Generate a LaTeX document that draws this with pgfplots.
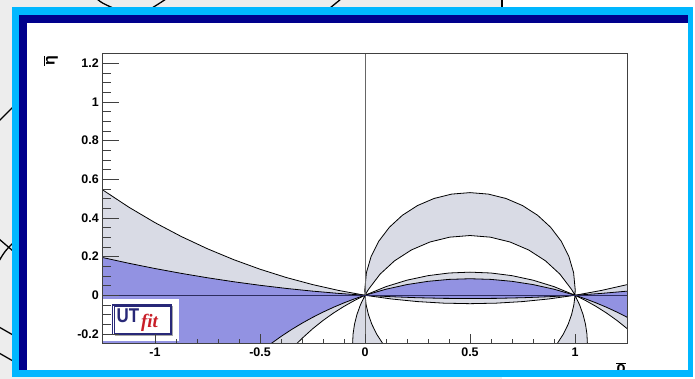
\documentclass[border=0pt]{standalone}
\usepackage{fontspec}
\setmainfont{Liberation Sans}
\newfontfamily\logoserif{Liberation Serif}
\usepackage{pgfplots}
\pgfplotsset{compat=1.18}

\definecolor{bandgray}{RGB}{217,219,229}
\definecolor{bandblue}{RGB}{146,146,226}
\definecolor{framecyan}{RGB}{0,183,255}
\definecolor{framenavy}{RGB}{0,0,140}
\definecolor{slidegray}{RGB}{237,237,237}
\definecolor{zeroline}{RGB}{45,45,95}
\definecolor{logonavy}{RGB}{40,40,120}
\definecolor{logored}{RGB}{200,30,40}

\begin{document}
\begin{tikzpicture}
\useasboundingbox (0,0) rectangle (695bp,379bp);
\clip (0,0) rectangle (695bp,379bp);
% slide background
\fill[white] (0,0) rectangle (695bp,379bp);
\fill[slidegray] (0,0) rectangle (502bp,379bp);
\draw[black, line width=1.2bp] (502bp,379bp) -- (502bp,370bp);
\begin{scope}[black, line width=1.3bp]
  \draw (97bp,380bp) .. controls (102bp,376bp) .. (113bp,371bp);
  \draw (166bp,380bp) .. controls (160bp,376bp) .. (152bp,371bp);
  \draw (341bp,380bp) .. controls (336bp,376bp) .. (330bp,371bp);
  \draw (-1bp,258bp) .. controls (5bp,264bp) .. (13bp,272bp);
  \draw (-1bp,118bp) .. controls (5bp,128bp) .. (13bp,136bp);
  \draw (-1bp,140bp) .. controls (6bp,134bp) .. (13bp,128bp);
  \draw (-1bp,52bp) .. controls (6bp,48bp) .. (13bp,44bp);
  \draw (-1bp,26bp) .. controls (6bp,22bp) .. (13bp,18bp);
\end{scope}
% picture frame
\fill[framecyan] (12bp,2bp) rectangle (693bp,372bp);
\fill[framenavy] (19bp,9bp) rectangle (688bp,364.3bp);
\fill[white] (26.7bp,9bp) rectangle (688bp,356.3bp);

\begin{axis}[
  at={(102.5bp,35.4bp)}, anchor=south west,
  scale only axis, width=525bp, height=290bp,
  xmin=-1.25, xmax=1.25, ymin=-0.25, ymax=1.25,
  axis on top,
  axis line style={draw=black!75, line width=0.6bp},
  tick pos=left, tick align=inside,
  xtick={-1,-0.5,0,0.5,1},
  ytick={-0.2,0,0.2,0.4,0.6,0.8,1,1.2},
  minor x tick num=4, minor y tick num=3,
  major tick length=16bp, minor tick length=8bp,
  x tick style={/pgfplots/major tick length=10bp, /pgfplots/minor tick length=5bp},
  tick style={black!75, line width=0.6bp},
  /pgf/number format/assume math mode=true,
  tick label style={font=\bfseries\fontsize{12.5}{13}\selectfont},
  yticklabel style={xshift=-0.2bp},
  xticklabel style={yshift=-0.5bp},
]
% 95% region, solution passing through the real axis (gray)
\addplot[fill=bandgray, draw=black, line width=0.8bp] coordinates {
  (-1.3,0.5845) (-1.25,0.5457) (-1.125,0.4559) (-1,0.3756) (-0.875,0.3040)
  (-0.75,0.2404) (-0.625,0.1841) (-0.5,0.1348) (-0.375,0.0919) (-0.25,0.0554)
  (-0.125,0.0248) (0,0) (-0.05,-0.0270) (-0.1,-0.0575) (-0.15,-0.0918)
  (-0.2,-0.1305) (-0.25,-0.1740) (-0.3,-0.2233) (-0.325,-0.2504) (-0.35,-0.2795)
  (-1.3,-0.2795)} -- cycle;
\addplot[fill=bandgray, draw=black, line width=0.8bp] coordinates {
  (0,0) (0.1,0.0447) (0.2,0.0781) (0.3,0.1014) (0.4,0.1151) (0.5,0.1196)
  (0.6,0.1151) (0.7,0.1014) (0.8,0.0781) (0.9,0.0447) (1,0)
  (0.875,-0.0191) (0.75,-0.0327) (0.625,-0.0408) (0.5,-0.0435)
  (0.375,-0.0408) (0.25,-0.0327) (0.125,-0.0191) (0,0)} -- cycle;
\addplot[fill=bandgray, draw=black, line width=0.8bp] coordinates {
  (1,0) (1.125,0.0248) (1.25,0.0554) (1.3,0.0693) (1.3,-0.2233)
  (1.25,-0.1740) (1.2,-0.1305) (1.15,-0.0918) (1.1,-0.0575) (1.05,-0.0270)
  (1,0)} -- cycle;
% 95% region, second solution (gray crescent and its lower branches)
\addplot[fill=bandgray, draw=black, line width=0.8bp] coordinates {
  (0,0) (-0.0009,0.03) (0.0067,0.1170) (0.0293,0.2013) (0.0662,0.2805)
  (0.1163,0.3520) (0.1780,0.4137) (0.2496,0.4638) (0.3287,0.5007)
  (0.4130,0.5233) (0.5,0.5309) (0.5870,0.5233) (0.6713,0.5007)
  (0.7504,0.4638) (0.8220,0.4137) (0.8837,0.3520) (0.9338,0.2805)
  (0.9707,0.2013) (0.9933,0.1170) (1.0009,0.03) (1,0)
  (0.9841,0.0295) (0.9282,0.1093) (0.8593,0.1782) (0.7795,0.2341)
  (0.6912,0.2753) (0.5971,0.3005) (0.5,0.3090) (0.4029,0.3005)
  (0.3088,0.2753) (0.2205,0.2341) (0.1407,0.1782) (0.0718,0.1093)
  (0.0159,0.0295) (0,0)} -- cycle;
\addplot[fill=bandgray, draw=black, line width=0.8bp] coordinates {
  (0,0) (-0.0220,-0.05) (-0.0385,-0.1) (-0.05,-0.15) (-0.0568,-0.2)
  (-0.0590,-0.25) (-0.0568,-0.3) (0.1232,-0.3) (0.0847,-0.25) (0.0550,-0.2)
  (0.0326,-0.15) (0.0163,-0.1) (0.0055,-0.05) (0,0)} -- cycle;
\addplot[fill=bandgray, draw=black, line width=0.8bp] coordinates {
  (1,0) (1.0220,-0.05) (1.0385,-0.1) (1.05,-0.15) (1.0568,-0.2)
  (1.0590,-0.25) (1.0568,-0.3) (0.8768,-0.3) (0.9153,-0.25) (0.9450,-0.2)
  (0.9674,-0.15) (0.9837,-0.1) (0.9945,-0.05) (1,0)} -- cycle;
% 68% region (blue)
\addplot[fill=bandblue, draw=black, line width=0.8bp] coordinates {
  (-1.3,0.2077) (-1.25,0.1953) (-1.125,0.1656) (-1,0.1383) (-0.875,0.1133)
  (-0.75,0.0905) (-0.625,0.0699) (-0.5,0.0516) (-0.375,0.0354) (-0.25,0.0214)
  (-0.125,0.0096) (0,0) (-0.05,-0.0186) (-0.1,-0.0393) (-0.15,-0.0621)
  (-0.2,-0.0872) (-0.25,-0.1147) (-0.3,-0.1447) (-0.35,-0.1775) (-0.4,-0.2132)
  (-0.45,-0.2521) (-0.5,-0.2947) (-1.3,-0.2947)} -- cycle;
\addplot[fill=bandblue, draw=black, line width=0.8bp] coordinates {
  (0,0) (0.1,0.0313) (0.2,0.0553) (0.3,0.0721) (0.4,0.0821) (0.5,0.0855)
  (0.6,0.0821) (0.7,0.0721) (0.8,0.0553) (0.9,0.0313) (1,0)
  (0.875,-0.0075) (0.75,-0.0128) (0.625,-0.0160) (0.5,-0.0171)
  (0.375,-0.0160) (0.25,-0.0128) (0.125,-0.0075) (0,0)} -- cycle;
\addplot[fill=bandblue, draw=black, line width=0.8bp] coordinates {
  (1,0) (1.125,0.0096) (1.25,0.0214) (1.3,0.0268) (1.3,-0.1447)
  (1.25,-0.1147) (1.2,-0.0872) (1.15,-0.0621) (1.1,-0.0393) (1.05,-0.0186)
  (1,0)} -- cycle;
% reference lines
\addplot[black!60, line width=0.5bp] coordinates {(0,-0.25) (0,1.25)};
\addplot[zeroline, line width=1.1bp] coordinates {(-1.25,0) (1.25,0)};
% logo
\fill[white] (axis cs:-1.247,-0.238) rectangle (axis cs:-0.888,-0.018);
\fill[black!35] (axis cs:-1.192,-0.213) rectangle (axis cs:-0.912,-0.058);
\draw[logonavy, line width=1.3bp, fill=white] (axis cs:-1.201,-0.204) rectangle (axis cs:-0.920,-0.050);
\draw[logonavy, line width=0.5bp] (axis cs:-1.192,-0.195) rectangle (axis cs:-0.929,-0.059);
\node[anchor=base west, inner sep=0, text=logonavy, font=\bfseries\fontsize{20}{20}\selectfont]
  at (axis cs:-1.184,-0.143) {\scalebox{0.85}[1]{UT}};
\node[anchor=base west, inner sep=0, text=logored, font=\logoserif\itshape\bfseries\fontsize{19}{19}\selectfont]
  at (axis cs:-1.067,-0.166) {fit};
\end{axis}
% axis titles
\node[rotate=90, anchor=center, font=\bfseries\fontsize{16}{16}\selectfont] at (51bp,318bp) {$\overline{\mbox{η}}$};
\node[anchor=center, font=\bfseries\fontsize{15}{15}\selectfont] at (621bp,10bp) {$\overline{\mbox{ρ}}$};
\fill[framecyan] (12bp,2bp) rectangle (693bp,9bp);
\end{tikzpicture}
\end{document}
